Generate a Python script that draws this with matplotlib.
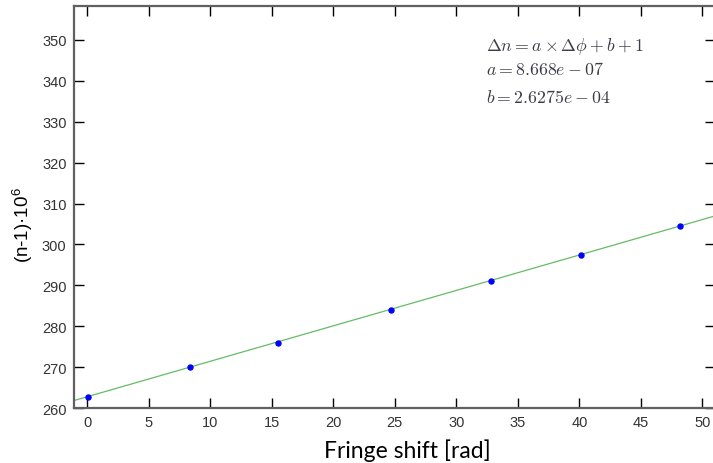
import numpy as np
import matplotlib
matplotlib.use('Agg')
import matplotlib.pyplot as plt

plt.rcParams['mathtext.fontset'] = 'cm'

# measured points, (n-1)*1e6 vs fringe shift
shift = [0.1, 8.4, 15.5, 24.7, 32.8, 40.1, 48.2]
n_minus_1 = [262.6, 270.0, 275.9, 283.9, 291.1, 297.3, 304.6]

# fit coefficients as printed on the chart
a = 8.668e-07
b = 2.6275e-04

xticks = [0, 5, 10, 15, 20, 25, 30, 35, 40, 45, 50]
yticks = [260, 270, 280, 290, 300, 310, 320, 330, 340, 350]

fig = plt.figure(figsize=(7.13, 4.64), dpi=100)
ax = fig.add_axes([0.1031, 0.1185, 0.8994, 0.8664])

xlim = (-1.1, 51)
x_fit = np.linspace(xlim[0], xlim[1], 200)
ax.plot(x_fit, (a * x_fit + b) * 1e6, color='#66bb66', lw=0.9, zorder=2)
ax.plot(shift, n_minus_1, 'o', color='#0000ff', ms=3.6, zorder=3)

ax.set_xlim(*xlim)
ax.set_ylim(260, 358.3)
ax.set_xticks(xticks)
ax.set_yticks(yticks)

ax.tick_params(direction='in', length=7, width=1, color='black',
               top=True, right=True, labelsize=10.5, pad=5)
for lab in ax.get_xticklabels() + ax.get_yticklabels():
    lab.set_family('Liberation Sans')
    lab.set_color('#333333')
for sp in ax.spines.values():
    sp.set_color('#606060')
    sp.set_linewidth(1.6)

ax.set_xlabel('Fringe shift [rad]', family='Lato', fontsize=16.5)
ax.xaxis.set_label_coords(0.52, -0.075)
ax.set_ylabel(r'(n-1)·10$^{\mathregular{6}}$', family='Liberation Sans',
              fontsize=13.5)
ax.yaxis.set_label_coords(-0.06, 0.458)

txt_color = '#3c3c48'
lines = [r'$\Delta n = a \times \Delta\phi + b + 1$',
         r'$a = 8.668e-07$',
         r'$b = 2.6275e-04$']
for yy, s in zip([0.903, 0.843, 0.774], lines):
    ax.text(0.643, yy, s, transform=ax.transAxes, fontsize=12.8,
            color=txt_color, va='center')

fig.savefig('out.png', dpi=100)
